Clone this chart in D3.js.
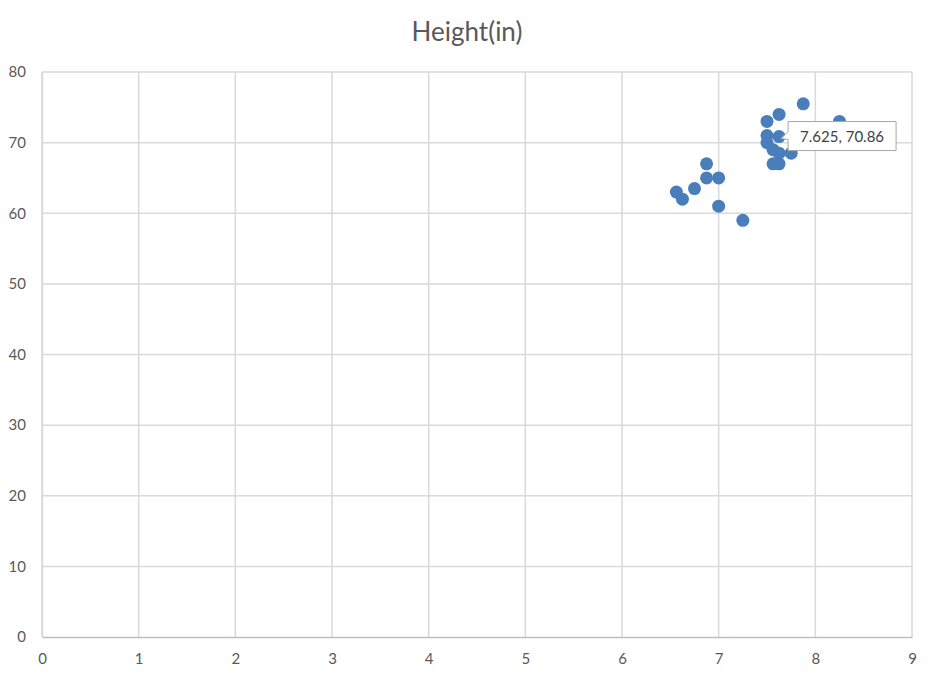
<!DOCTYPE html>
<html><head><meta charset="utf-8">
<script src="https://cdn.jsdelivr.net/npm/d3@7"></script>
<style>body{margin:0;background:#fff;} text{font-family:Lato,"Open Sans",sans-serif;}</style>
</head><body><svg id="c" width="939" height="683"></svg>
<script>
const xVals = [7.875,7.625,7.5,8.25,7.5,7.625,7.5,7.5625,7.625,7.75,7.5625,7.625,6.875,6.875,7.0,6.75,6.5625,6.625,7.0,7.25];
const yVals = [75.5,74,73,73,71,70.86,70,69,68.5,68.5,67,67,67,65,65,63.5,63,62,61,59];
const xTicks = [0,1,2,3,4,5,6,7,8,9];
const yTicks = [0,10,20,30,40,50,60,70,80];
const title = "Height(in)";
const highlight = {x:7.625, y:70.86, label:"7.625, 70.86"};

const svg = d3.select("#c");
const m = {l:42, r:912, t:72, b:637};
const x = d3.scaleLinear().domain([0,9]).range([m.l,m.r]);
const y = d3.scaleLinear().domain([0,80]).range([m.b,m.t]);

svg.append("text").attr("x",467).attr("y",41).attr("text-anchor","middle")
  .attr("font-size",26).attr("fill","#595959").text(title);

// gridlines
svg.append("g").selectAll("line").data(yTicks.filter(d=>d>0)).join("line")
  .attr("x1",m.l).attr("x2",m.r).attr("y1",d=>y(d)).attr("y2",d=>y(d))
  .attr("stroke","#d9d9d9").attr("stroke-width",1.5);
svg.append("g").selectAll("line").data(xTicks).join("line")
  .attr("x1",d=>x(d)).attr("x2",d=>x(d)).attr("y1",m.t).attr("y2",m.b)
  .attr("stroke","#d9d9d9").attr("stroke-width",1.5);

// axes
const xa = svg.append("g").attr("transform",`translate(0,${m.b})`)
  .call(d3.axisBottom(x).tickValues(xTicks).tickSize(0).tickPadding(16));
xa.select(".domain").attr("stroke","#bfbfbf").attr("stroke-width",1.5);
xa.selectAll("text").attr("font-size",15).attr("fill","#595959").attr("font-family","Lato");
const ya = svg.append("g").attr("transform",`translate(${m.l},0)`)
  .call(d3.axisLeft(y).tickValues(yTicks).tickSize(0).tickPadding(16));
ya.select(".domain").attr("stroke","#d9d9d9").attr("stroke-width",1.5);
ya.selectAll("text").attr("font-size",15).attr("fill","#595959").attr("font-family","Lato");

// points
svg.append("g").selectAll("circle").data(xVals.map((d,i)=>[d,yVals[i]])).join("circle")
  .attr("cx",d=>x(d[0])).attr("cy",d=>y(d[1])).attr("r",6.5)
  .attr("fill","#4a7ebb");

// callout
const px = x(highlight.x), py = y(highlight.y);
const bx = px+9, by = py-15, bw = 108, bh = 29;
svg.append("path")
  .attr("d",`M${bx},${by} L${bx+bw},${by} L${bx+bw},${by+bh} L${bx},${by+bh} L${bx},${by+18} L${px+2},${py+2} L${bx},${by+10} Z`)
  .attr("fill","#fff").attr("stroke","#a6a6a6").attr("stroke-width",1);
svg.append("text").attr("x",bx+bw/2).attr("y",by+20).attr("text-anchor","middle")
  .attr("font-size",15).attr("fill","#404040").text(highlight.label);
</script></body></html>
